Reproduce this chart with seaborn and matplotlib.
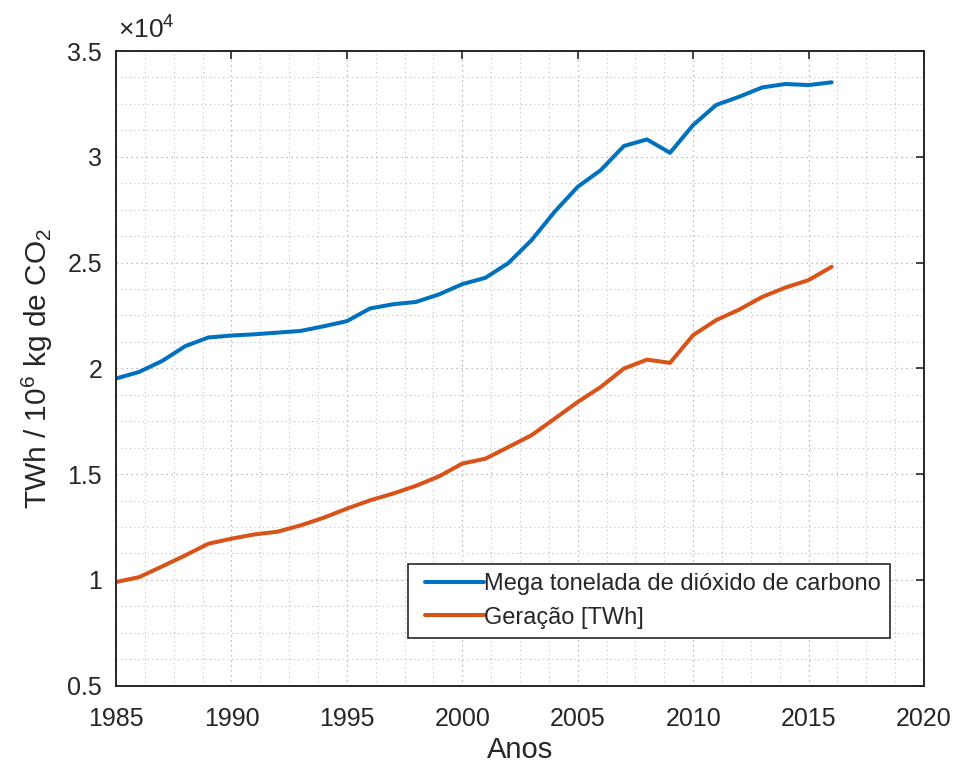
import numpy as np
import pandas as pd
import matplotlib
matplotlib.use("Agg")
import matplotlib.pyplot as plt
from matplotlib.lines import Line2D
from matplotlib.legend_handler import HandlerLine2D
from matplotlib.ticker import MultipleLocator, FuncFormatter
import seaborn as sns

# Annual series, 1985-2016
anos = list(range(1985, 2017))
co2_mt = [19520, 19830, 20350, 21050, 21460, 21550, 21610, 21690, 21770, 21990,
          22230, 22830, 23030, 23140, 23500, 23980, 24280, 24980, 26060, 27400,
          28580, 29370, 30510, 30820, 30190, 31500, 32450, 32840, 33280, 33440,
          33390, 33520]
geracao_twh = [9900, 10130, 10640, 11160, 11710, 11950, 12150, 12280, 12580, 12940,
               13370, 13760, 14080, 14450, 14900, 15500, 15730, 16280, 16840, 17620,
               18410, 19120, 19990, 20410, 20260, 21570, 22280, 22780, 23380, 23820,
               24170, 24800]

serie_co2 = "Mega tonelada de dióxido de carbono"
serie_ger = "Geração [TWh]"
cores = ["#0072BD", "#D95319"]

df = pd.DataFrame({
    "Ano": anos * 2,
    "Valor": co2_mt + geracao_twh,
    "Série": [serie_co2] * len(anos) + [serie_ger] * len(anos),
})

sns.set_theme(style="white")
plt.rcParams["font.family"] = ["Liberation Sans", "DejaVu Sans"]
plt.rcParams["mathtext.fontset"] = "custom"
plt.rcParams["mathtext.rm"] = "Liberation Sans"
plt.rcParams["mathtext.it"] = "Liberation Sans:italic"
plt.rcParams["mathtext.default"] = "regular"

txt = "#262626"
fig = plt.figure(figsize=(9.55, 7.67), dpi=100)
ax = fig.add_axes([0.1215, 0.106, 0.846, 0.8275])

sns.lineplot(data=df, x="Ano", y="Valor", hue="Série", palette=cores,
             linewidth=2.9, ax=ax, legend=True)

ax.set_xlim(1985, 2020)
ax.set_ylim(5000, 35000)
ax.xaxis.set_major_locator(MultipleLocator(5))
ax.xaxis.set_minor_locator(MultipleLocator(1.25))
ax.yaxis.set_major_locator(MultipleLocator(5000))
ax.yaxis.set_minor_locator(MultipleLocator(1250))
ax.yaxis.set_major_formatter(FuncFormatter(lambda v, p: f"{v / 1e4:g}"))

ax.grid(True, which="major", linestyle=(0, (1, 3)), color="#a8a8a8", linewidth=0.9)
ax.grid(True, which="minor", linestyle=(0, (1, 3)), color="#c0c0c0", linewidth=0.8)
ax.set_axisbelow(True)

for s in ax.spines.values():
    s.set_visible(True)
    s.set_color(txt)
    s.set_linewidth(1.4)

ax.tick_params(which="major", direction="in", length=6, width=1.2, color=txt,
               top=True, right=True, labelsize=18, labelcolor=txt)
ax.tick_params(axis="x", which="major", pad=15)
ax.tick_params(axis="y", which="major", pad=10)
ax.tick_params(which="minor", length=0)

ax.set_xlabel("Anos", fontsize=21, color=txt, labelpad=4)
ax.set_ylabel(r"TWh / 10$^6$ kg de CO$_2$", fontsize=21.5, color=txt, labelpad=9)

ax.text(0.002, 1.011, r"$\times$10$^4$", transform=ax.transAxes, ha="left",
        va="bottom", fontsize=19, color=txt)

handles, labels = ax.get_legend_handles_labels()
leg = ax.legend(handles, labels, loc="lower right", bbox_to_anchor=(0.958, 0.0756),
                fontsize=17, frameon=True, fancybox=False, edgecolor=txt,
                framealpha=1, handlelength=2.85, handletextpad=0.0,
                borderpad=0.38, labelspacing=0.5, borderaxespad=0,
                handler_map={Line2D: HandlerLine2D(xpad=0.35)})
leg.get_frame().set_linewidth(1.2)
for t in leg.get_texts():
    t.set_color(txt)

fig.savefig("out.png", dpi=100, facecolor="white")
